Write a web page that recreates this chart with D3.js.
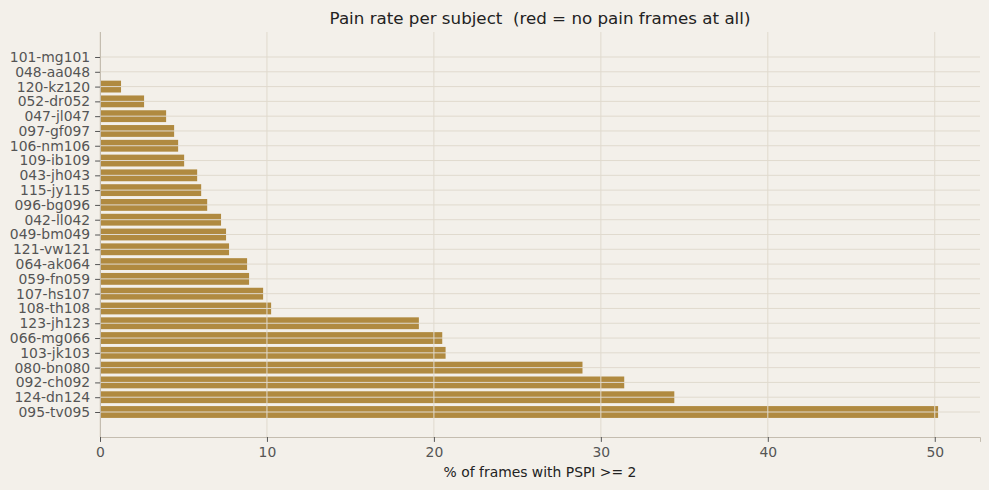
<!DOCTYPE html>
<html>
<head>
<meta charset="utf-8">
<script src="https://cdn.jsdelivr.net/npm/d3@7"></script>
<style>
  body { margin: 0; background: #f3f0ea; }
  svg text { font-family: "DejaVu Sans", sans-serif; white-space: pre; }
</style>
</head>
<body>
<div id="chart"></div>
<script>
// subjects, top to bottom
var subjects = ["101-mg101", "048-aa048", "120-kz120", "052-dr052", "047-jl047", "097-gf097",
    "106-nm106", "109-ib109", "043-jh043", "115-jy115", "096-bg096", "042-ll042", "049-bm049",
    "121-vw121", "064-ak064", "059-fn059", "107-hs107", "108-th108", "123-jh123", "066-mg066",
    "103-jk103", "080-bn080", "092-ch092", "124-dn124", "095-tv095"];
// % of frames with PSPI >= 2
var painRate = [0, 0, 1.26, 2.64, 3.96, 4.44, 4.68, 5.04, 5.82, 6.06, 6.42, 7.25, 7.55,
    7.73, 8.81, 8.93, 9.77, 10.25, 19.1, 20.5, 20.7, 28.9, 31.4, 34.4, 50.2];
var xTicks = [0, 10, 20, 30, 40, 50];

var data = subjects.map(function (s, i) { return { name: s, value: painRate[i], idx: i }; });

var W = 989, H = 490;
var margin = { top: 32, right: 9, bottom: 53, left: 100 },
    width = W - margin.left - margin.right,
    height = H - margin.top - margin.bottom;

var svg = d3.select("#chart")
    .append("svg")
    .attr("width", W)
    .attr("height", H);

svg.append("rect").attr("width", W).attr("height", H).attr("fill", "#f3f0ea");

var g = svg.append("g")
    .attr("transform", "translate(" + margin.left + "," + margin.top + ")");

var n = subjects.length;
var pad = 1.29;
var x = d3.scaleLinear()
    .domain([0, d3.max(painRate) * 1.05])
    .range([0, width]);
var y = d3.scaleLinear()
    .domain([-0.4 - pad, n - 1 + 0.4 + pad])
    .range([0, height]);

// bars (red = no pain frames at all)
g.selectAll(".bar")
    .data(data)
    .enter()
    .append("rect")
    .attr("class", "bar")
    .attr("x", x(0))
    .attr("y", function (d) { return y(d.idx - 0.4); })
    .attr("width", function (d) { return x(d.value) - x(0); })
    .attr("height", function (d) { return y(d.idx + 0.4) - y(d.idx - 0.4); })
    .attr("fill", function (d) { return d.value === 0 ? "#c0392b" : "#b08a40"; });

// grid on top of bars
g.append("g")
    .selectAll("line")
    .data(xTicks)
    .enter()
    .append("line")
    .attr("x1", function (d) { return x(d); })
    .attr("x2", function (d) { return x(d); })
    .attr("y1", 0)
    .attr("y2", height)
    .attr("stroke", "#e0dace")
    .attr("stroke-width", 1);
g.append("g")
    .selectAll("line")
    .data(data)
    .enter()
    .append("line")
    .attr("x1", 0)
    .attr("x2", width)
    .attr("y1", function (d) { return y(d.idx); })
    .attr("y2", function (d) { return y(d.idx); })
    .attr("stroke", "#e0dace")
    .attr("stroke-width", 1);

// X axis
var xAxis = g.append("g")
    .attr("transform", "translate(0," + height + ")")
    .call(d3.axisBottom(x).tickValues(xTicks).tickFormat(d3.format("d")).tickSize(4.9).tickPadding(4.9));
xAxis.attr("font-family", null).attr("font-size", null);
xAxis.select(".domain").attr("stroke", "#c4bdb0");
xAxis.selectAll(".tick line").attr("stroke", "#555");
xAxis.selectAll("text").attr("fill", "#555").style("font-size", "13.9px");

// Y axis
var yAxis = g.append("g")
    .call(d3.axisLeft(y)
        .tickValues(d3.range(n))
        .tickFormat(function (i) { return subjects[i]; })
        .tickSize(4.9).tickPadding(4.9));
yAxis.attr("font-family", null).attr("font-size", null);
yAxis.select(".domain").attr("d", "M0.5,0V" + height).attr("stroke", "#c4bdb0");
yAxis.selectAll(".tick line").attr("stroke", "#555");
yAxis.selectAll("text").attr("fill", "#555").style("font-size", "13.9px");

// title and label
svg.append("text")
    .attr("x", margin.left + width / 2)
    .attr("y", 24)
    .attr("text-anchor", "middle")
    .attr("fill", "#222")
    .style("font-size", "16.7px")
    .text("Pain rate per subject  (red = no pain frames at all)");

svg.append("text")
    .attr("x", margin.left + width / 2)
    .attr("y", 477)
    .attr("text-anchor", "middle")
    .attr("fill", "#222")
    .style("font-size", "13.9px")
    .text("% of frames with PSPI >= 2");
</script>
</body>
</html>
